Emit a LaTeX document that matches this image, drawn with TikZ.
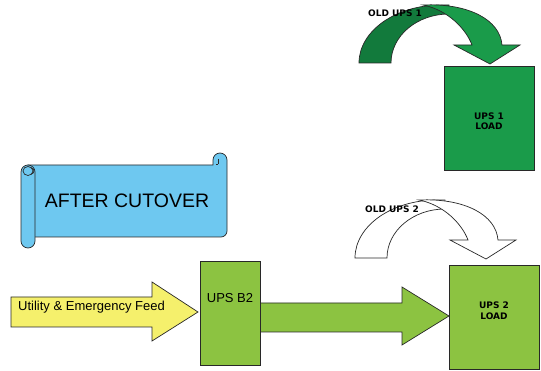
\documentclass[tikz,border=0pt]{standalone}
\usepackage{fontspec}
\setmainfont{Liberation Sans}
\newfontfamily\boldsp{DejaVu Sans Bold}
\definecolor{dkgreen}{RGB}{18,122,60}
\definecolor{ltgreen}{RGB}{26,155,74}
\definecolor{lime}{RGB}{140,195,65}
\definecolor{yel}{RGB}{245,240,108}
\definecolor{sky}{RGB}{110,200,240}
\definecolor{edge}{RGB}{40,40,40}
\tikzset{
  outl/.style={draw=edge, line width=0.7pt, line join=miter},
  boxnode/.style={outl, inner sep=0pt, anchor=north west},
  smallbold/.style={font=\boldsp\fontsize{9}{10.5}\selectfont, align=center, inner sep=0pt},
  plain/.style={font=\fontsize{13}{15}\selectfont, inner sep=0pt}
}
\newcommand\curvearrow[2]{%
  % back band
  \path[outl, fill=#1] (355,258) arc[start angle=180, end angle=270, x radius=82, y radius=58]
     -- (445,200) -- (445,209)
     arc[start angle=270, end angle=180, x radius=58, y radius=49] -- cycle;
  % front band with head
  \path[outl, fill=#2] (419,200) .. controls (465,198) and (496,215) .. (498,240)
     -- (516,240) -- (486,259) -- (450,240) -- (468,240)
     .. controls (462,224) and (444,205) .. (419,200) -- cycle;
}
\begin{document}
\begin{tikzpicture}[x=1pt, y=-1pt]
\useasboundingbox (0,0) rectangle (541,371);

% ---- scroll "AFTER CUTOVER"
\path[outl, fill=sky] (28,165) -- (213,165) -- (213,160)
   arc[start angle=180, end angle=360, radius=7]
   -- (227,231) arc[start angle=0, end angle=90, radius=6] -- (28,237) -- cycle;
\draw[outl] (218,159) -- (218,164);
\draw[outl] (216,164) -- (218,164);
\path[outl, fill=sky] (21,172) -- (21,241) arc[start angle=180, end angle=0, radius=7]
   -- (35,172) arc[start angle=0, end angle=-180, radius=7] -- cycle;
\draw[outl] (28,171) ellipse[x radius=5, y radius=4.5];
\draw[outl] (31,168) arc[start angle=-90, end angle=90, radius=3] -- (31,174);
\node[font=\fontsize{19.5}{21}\selectfont, inner sep=0pt] (title) at (127,201) {AFTER CUTOVER};

% ---- yellow feed arrow
\path[outl, fill=yel] (11,297) -- (152,297) -- (152,282) -- (198,312) -- (152,341) -- (152,327) -- (11,327) -- cycle;
\node[plain, anchor=west] (feed) at (18,307) {Utility \& Emergency Feed};

% ---- big green arrow
\path[outl, fill=lime] (260,303) -- (402,303) -- (402,287) -- (449,316) -- (402,345) -- (402,332) -- (260,332) -- cycle;

% ---- UPS B2 box
\node[boxnode, fill=lime, minimum width=60pt, minimum height=104pt] (b2) at (200,261) {};
\node[plain] (b2t) at (230,298) {UPS B2};

% ---- UPS 2 LOAD
\node[boxnode, fill=lime, minimum width=90pt, minimum height=104pt] (l2) at (449,265) {};
\node[smallbold] (l2t) at (494,310.5) {UPS 2\\LOAD};

% ---- UPS 1 LOAD
\node[boxnode, fill=ltgreen, minimum width=90pt, minimum height=104pt] (l1) at (444,66) {};
\node[smallbold] (l1t) at (489,121) {UPS 1\\LOAD};

% ---- curved arrows
\begin{scope}[shift={(4,-195)}]
  \curvearrow{dkgreen}{ltgreen}
\end{scope}
\node[smallbold] (o1) at (395,13) {OLD UPS 1};

\curvearrow{white}{white}
\node[smallbold] (o2) at (392,209) {OLD UPS 2};
\end{tikzpicture}
\end{document}
